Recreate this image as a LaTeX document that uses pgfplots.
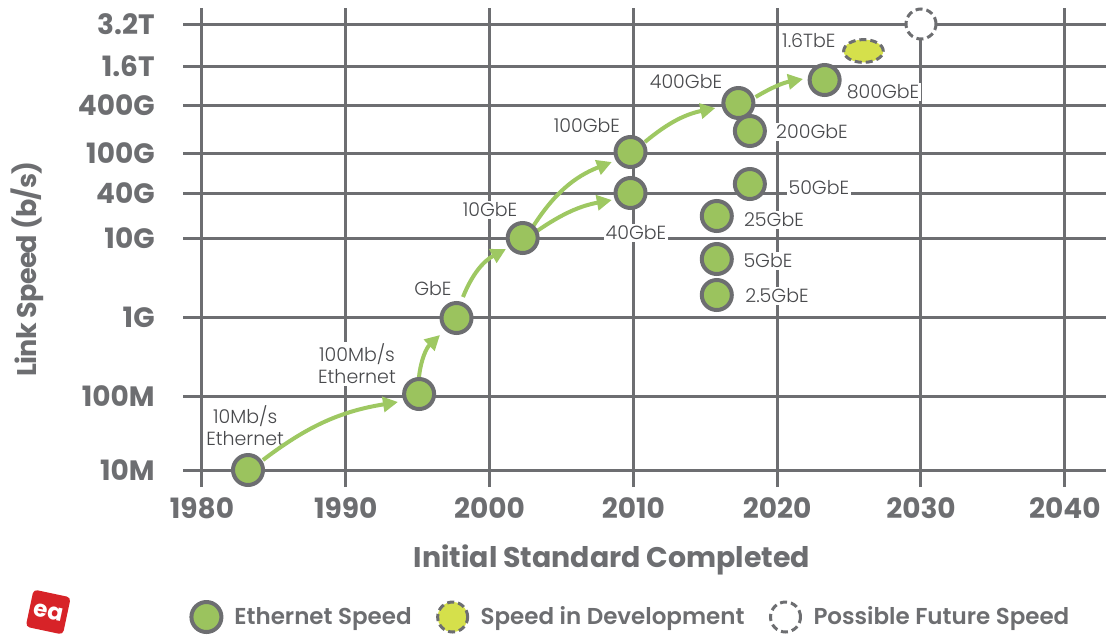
\documentclass[border=0pt]{standalone}
\usepackage{fontspec}
\setmainfont{Poppins}
\newfontfamily\lightfont{Poppins Light}
\newfontfamily\medfont{Poppins SemiBold}
\usepackage{pgfplots}
\pgfplotsset{compat=1.18}
\usetikzlibrary{arrows.meta}
\definecolor{gridgray}{RGB}{109,110,113}
\definecolor{txtgray}{RGB}{72,73,76}
\definecolor{ethgreen}{RGB}{155,195,94}
\definecolor{arrgreen}{RGB}{158,200,98}
\definecolor{devyellow}{RGB}{213,224,75}
\definecolor{logored}{RGB}{215,35,40}
\tikzset{
    lbl/.style={font=\lightfont\fontsize{9.5}{11}\selectfont, text=txtgray, fill=white, inner sep=1pt, align=center},
    arr/.style={arrgreen, line width=2pt, -{Triangle[length=7.5pt,width=7.5pt]}},
}

\begin{document}
\begin{tikzpicture}
\begin{axis}[
    at={(91.5pt,73.5pt)}, anchor=south west,
    x=7.19pt, y=0.5pt,
    xmin=1978.68, xmax=2042.87,
    ymin=-17, ymax=462,
    clip=false,
    axis line style={draw=none},
    major tick length=0pt,
    grid=major,
    major grid style={gridgray, line width=1.5pt},
    xtick={1980,1990,2000,2010,2020,2030,2040},
    xticklabels={1980,1990,2000,2010,2020,2030,2040},
    ytick={0,74,153,232,277,317,365,404,445.5},
    yticklabels={10M,100M,1G,10G,40G,100G,400G,1.6T,3.2T},
    xticklabel style={font=\bfseries\fontsize{14}{15}\selectfont, text=gridgray, anchor=north, inner sep=0pt, yshift=-5pt},
    yticklabel style={font=\bfseries\fontsize{14}{15}\selectfont, text=gridgray, anchor=east, inner sep=0pt, xshift=-14pt},
    xlabel={Initial Standard Completed},
    xlabel style={at={(axis description cs:0.4648,-0.1524)}, anchor=center, font=\bfseries\fontsize{14.2}{16}\selectfont, text=gridgray},
    ylabel={Link Speed (b/s)},
    ylabel style={at={(axis description cs:-0.169,0.455)}, anchor=center, font=\bfseries\fontsize{13.5}{16}\selectfont\addfontfeatures{LetterSpace=-3}, text=gridgray},
    legend style={at={(0.0087,-0.2714)}, anchor=west, draw=none, fill=none, inner sep=0pt,
        font=\medfont\fontsize{11.5}{13}\selectfont, text=gridgray,
        /tikz/every odd column/.append style={column sep=4.5pt},
        /tikz/every even column/.append style={column sep=11pt}},
    legend columns=-1,
]

% labels
\node[lbl] at (axis cs:1983.0,44) {10Mb/s\\Ethernet};
\node[lbl] at (axis cs:1990.78,106) {100Mb/s\\Ethernet};
\node[lbl] at (axis cs:1996.06,181) {GbE};
\node[lbl] at (axis cs:2000.03,260) {10GbE};
\node[lbl] at (axis cs:2006.77,344) {100GbE};
\node[lbl] at (axis cs:2010.18,237) {40GbE};
\node[lbl] at (axis cs:2013.66,388) {400GbE};
\node[lbl] at (axis cs:2022.42,338) {200GbE};
\node[lbl] at (axis cs:2022.9,282) {50GbE};
\node[lbl] at (axis cs:2019.78,250) {25GbE};
\node[lbl] at (axis cs:2019.36,209) {5GbE};
\node[lbl] at (axis cs:2019.99,174) {2.5GbE};
\node[lbl] at (axis cs:2027.36,378) {800GbE};
\node[lbl] at (axis cs:2022.2,429) {1.6TbE};

% arrows
\draw[arr] (axis cs:1984.24,10) to[bend left=14] (axis cs:1993.63,68);
\draw[arr] (axis cs:1995.09,93) to[bend left=20] (axis cs:1996.55,135);
\draw[arr] (axis cs:1998.15,173) to[bend left=20] (axis cs:2001.14,221);
\draw[arr] (axis cs:2003.0,243) to[bend left=18] (axis cs:2008.5,308);
\draw[arr] (axis cs:2003.3,239) to[bend left=12] (axis cs:2008.5,270);
\draw[arr] (axis cs:2010.8,328) to[bend left=14] (axis cs:2015.7,362);
\draw[arr] (axis cs:2018.5,373) to[bend left=10] (axis cs:2021.8,391);

\addplot[only marks, mark=*, mark size=7.5pt,
    mark options={fill=ethgreen, draw=gridgray, line width=2pt}] coordinates {
    (1983.2,0) (1995.1,76) (1997.7,152) (2002.3,232)
    (2009.8,318) (2009.8,277) (2017.3,367) (2018.1,339)
    (2018.1,286) (2015.8,254) (2015.8,211) (2015.8,175)
    (2023.3,390)
};
\addlegendentry{Ethernet Speed}

\addplot[forget plot, only marks, mark=*, mark size=7.5pt,
    mark options={fill=devyellow, draw=gridgray, line width=1.5pt, dash pattern=on 3.5pt off 2pt, xscale=1.32, yscale=0.76}]
    coordinates {(2026.0,419)};
\addlegendimage{only marks, mark=*, mark size=7.5pt, mark options={fill=devyellow, draw=gridgray, line width=1.5pt, dash pattern=on 3.5pt off 2pt}}
\addlegendentry{Speed in Development}

\addplot[forget plot, only marks, mark=*, mark size=7.5pt,
    mark options={fill=white, draw=gridgray, line width=1.5pt, dash pattern=on 3.5pt off 2pt}]
    coordinates {(2030,446)};
\addlegendimage{only marks, mark=*, mark size=7.5pt, mark options={fill=white, draw=gridgray, line width=1.5pt, dash pattern=on 3.5pt off 2pt}}
\addlegendentry{Possible Future Speed}

% logo
\node[fill=logored, rounded corners=2pt, rotate=-12, minimum size=19pt, inner sep=0pt,
    text=white, font=\bfseries\fontsize{11.5}{11.5}\selectfont] at (rel axis cs:-0.146,-0.261) {ea};
\end{axis}
\pgfresetboundingbox
\path[use as bounding box] (0,0) rectangle (553pt,317pt);
\end{tikzpicture}
\end{document}
